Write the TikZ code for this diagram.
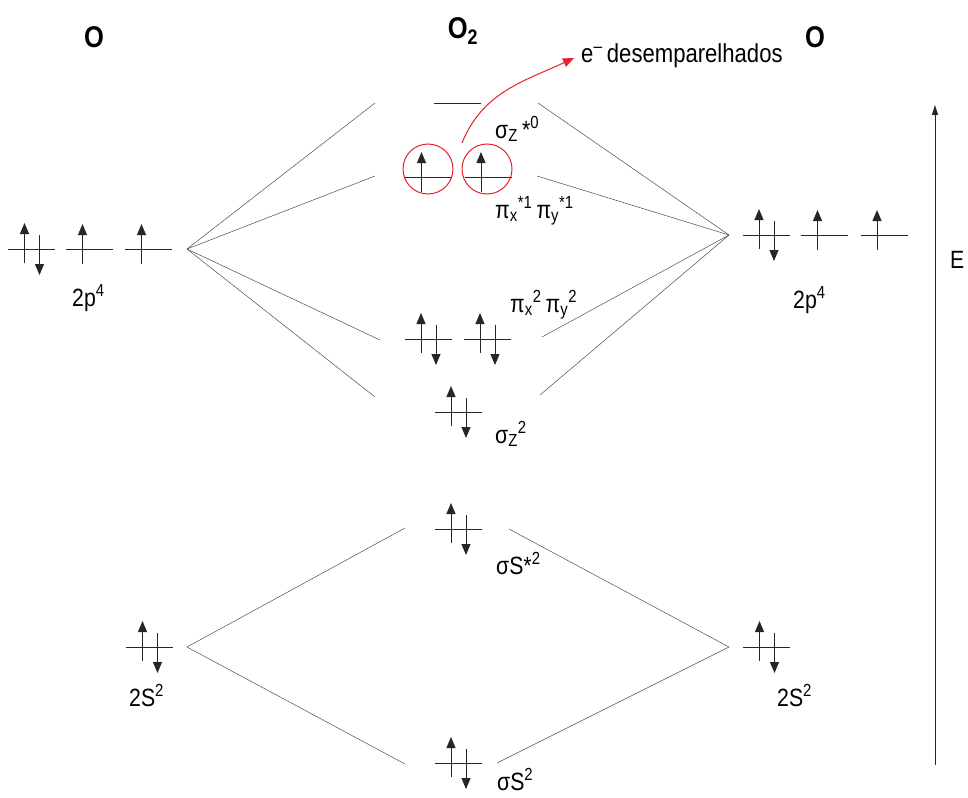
\documentclass[tikz,border=0pt]{standalone}
\usepackage{fontspec}
\setmainfont{Liberation Sans}[FakeStretch=0.85]
\usetikzlibrary{arrows.meta}
\definecolor{hilite}{RGB}{232,32,40}
\begin{document}
\begin{tikzpicture}[x=1pt,y=-1pt,
  orb/.style={line width=1pt, draw=black!85},
  spin/.style={line width=1pt, draw=black!85, -{Triangle[width=9pt,length=11pt]}},
  conn/.style={line width=0.5pt, draw=black!70},
  lbl/.style={anchor=base west, inner sep=0pt, font=\fontsize{25}{28}\selectfont},
  ttl/.style={anchor=center, inner sep=0pt, font=\fontsize{30}{33}\selectfont\bfseries},
  pics/orbpair/.style={code={
    \draw[orb] (-23.5,0) -- (23.5,0);
    \draw[spin] (-7,14) -- (-7,-26);
    \draw[spin] (8,-14) -- (8,26);}},
  pics/orbsingle/.style={code={
    \draw[orb] (-23.5,0) -- (23.5,0);
    \draw[spin] (-7,15) -- (-7,-25);}},
  pics/orbempty/.style={code={
    \draw[orb] (-23.5,0) -- (23.5,0);}}
]
\useasboundingbox (0,0) rectangle (968,797);

% titles
\node[ttl] (tO1) at (94,37) {O};
\node[ttl] (tO2) at (463,31) {O\textsubscript{2}};
\node[ttl] (tO3) at (815,37) {O};

% left atom
\pic at (31.5,249) {orbpair};
\pic at (89.5,249) {orbsingle};
\pic at (148.5,249) {orbsingle};
\node[lbl] (l2p) at (72,306) {2p\textsuperscript{4}};
\pic at (149.5,647) {orbpair};
\node[lbl] (l2s) at (129,706) {2S\textsuperscript{2}};

% right atom
\pic at (766,235) {orbpair};
\pic at (824.5,235) {orbsingle};
\pic at (884,235) {orbsingle};
\node[lbl] (r2p) at (793,308) {2p\textsuperscript{4}};
\pic at (766.5,647) {orbpair};
\node[lbl] (r2s) at (777,706) {2S\textsuperscript{2}};

% molecule
\pic at (457.5,104) {orbempty};
\pic at (428.5,177) {orbsingle};
\pic at (488,177) {orbsingle};
\pic at (428,339) {orbpair};
\pic at (487,339) {orbpair};
\pic at (458,412) {orbpair};
\pic at (458,529) {orbpair};
\pic at (458,763) {orbpair};

\node[lbl] (lsz) at (495,138) {σ\textsubscript{Z}\,*\textsuperscript{0}};
\node[lbl] (lpis) at (495,218) {π\textsubscript{x}\textsuperscript{*1}\,π\textsubscript{y}\textsuperscript{*1}};
\node[lbl] (lpi) at (510,312) {π\textsubscript{x}\textsuperscript{2}\,π\textsubscript{y}\textsuperscript{2}};
\node[lbl] (lsz2) at (495,443) {σ\textsubscript{Z}\textsuperscript{2}};
\node[lbl] (lss) at (496,574) {σS*\textsuperscript{2}};
\node[lbl] (ls) at (497,790) {σS\textsuperscript{2}};

% circles around unpaired electrons
\node[draw=hilite, line width=1pt, circle, minimum size=50pt, inner sep=0pt] (c1) at (428,169) {};
\node[draw=hilite, line width=1pt, circle, minimum size=50pt, inner sep=0pt] (c2) at (487,169) {};

% red arrow and label
\coordinate (rs) at (462,143);
\node[lbl, font=\fontsize{26}{28}\selectfont] (unp) at (581,63) {e\textsuperscript{\raisebox{0.2ex}{–}}\,desemparelhados};
\coordinate (re) at (574,58);
\draw[line width=1pt, color=hilite, -{Triangle[width=9pt,length=11pt]}] (rs) to[out=68,in=205] (re);

% convergence points
\coordinate (L2p) at (187,249);
\coordinate (R2p) at (729,235);
\coordinate (L2s) at (187,647);
\coordinate (R2s) at (729,647);

% line ends
\coordinate (La) at (375,103);
\coordinate (Lb) at (375,176);
\coordinate (Lc) at (380,340);
\coordinate (Ld) at (375,397);
\coordinate (Ra) at (538,103);
\coordinate (Rb) at (537,176);
\coordinate (Rc) at (542,337);
\coordinate (Rd) at (540,395);
\coordinate (Le) at (405,528);
\coordinate (Lf) at (405,764);
\coordinate (Re) at (509,529);
\coordinate (Rf) at (497,763);

\draw[conn] (L2p) -- (La);
\draw[conn] (L2p) -- (Lb);
\draw[conn] (L2p) -- (Lc);
\draw[conn] (L2p) -- (Ld);
\draw[conn] (R2p) -- (Ra);
\draw[conn] (R2p) -- (Rb);
\draw[conn] (R2p) -- (Rc);
\draw[conn] (R2p) -- (Rd);
\draw[conn] (L2s) -- (Le);
\draw[conn] (L2s) -- (Lf);
\draw[conn] (R2s) -- (Re);
\draw[conn] (R2s) -- (Rf);

% energy axis
\coordinate (E0) at (935,765);
\coordinate (E1) at (935,105);
\draw[line width=1pt, black!85, -{Triangle[width=6pt,length=10pt]}] (E0) -- (E1);
\node[lbl] (lE) at (950,268) {E};
\end{tikzpicture}
\end{document}
